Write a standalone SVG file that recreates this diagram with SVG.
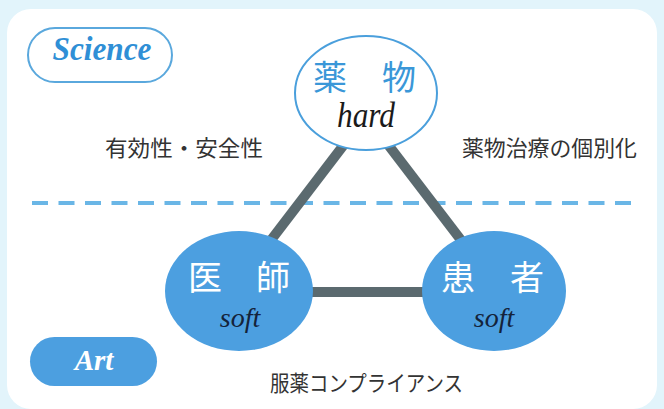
<svg xmlns="http://www.w3.org/2000/svg" width="664" height="409" viewBox="0 0 664 409">
<style>
.jp{font-family:"Noto Sans CJK JP","Noto Sans",sans-serif}
.lbl{font-size:22px;fill:#333}
.it{font-family:"Liberation Serif","DejaVu Serif",serif;font-style:italic}
.edge{stroke:#5b6a6f;stroke-width:10;stroke-linecap:butt}
.wn{font-size:34px;fill:#fff}
.soft{font-size:28px;fill:#14233a}
</style>
<rect x="0" y="0" width="664" height="409" fill="#e2f4fb"/>
<rect x="7" y="9" width="650" height="400" rx="24" fill="#ffffff"/>
<line x1="32" y1="203" x2="638" y2="203" stroke="#6ab6e6" stroke-width="4" stroke-dasharray="16 10.5"/>
<g id="connectors">
<line class="edge" x1="346" y1="142" x2="268" y2="244"/>
<line class="edge" x1="386" y1="142" x2="464" y2="244"/>
<line class="edge" x1="300" y1="292" x2="432" y2="292"/>
</g>
<g id="science">
<rect x="28" y="28" width="144" height="54" rx="27" fill="#fff" stroke="#5aa8dd" stroke-width="2"/>
<text x="102" y="60" text-anchor="middle" class="it" font-weight="bold" font-size="34" fill="#2f8fd6" textLength="99" lengthAdjust="spacingAndGlyphs">Science</text>
</g>
<g id="art">
<rect x="30" y="337" width="127" height="49" rx="24.5" fill="#4c9fe0"/>
<text x="94" y="370" text-anchor="middle" class="it" font-weight="bold" font-size="29" fill="#fff">Art</text>
</g>
<g id="drug">
<ellipse cx="366" cy="93" rx="71" ry="57" fill="#fff" stroke="#4a9fdc" stroke-width="2"/>
<text x="330" y="90" text-anchor="middle" class="jp" font-size="34" fill="#3a97d8">薬</text>
<text x="399" y="90" text-anchor="middle" class="jp" font-size="34" fill="#3a97d8">物</text>
<text x="366" y="127" text-anchor="middle" class="it" font-size="36" fill="#1a1a1a" textLength="58" lengthAdjust="spacingAndGlyphs">hard</text>
</g>
<g id="doctor">
<ellipse cx="239" cy="291" rx="74" ry="60" fill="#4c9fe0"/>
<text x="205" y="290" text-anchor="middle" class="jp wn">医</text>
<text x="273" y="290" text-anchor="middle" class="jp wn">師</text>
<text x="240" y="327" text-anchor="middle" class="it soft">soft</text>
</g>
<g id="patient">
<ellipse cx="494" cy="291" rx="72" ry="60" fill="#4c9fe0"/>
<text x="458" y="290" text-anchor="middle" class="jp wn">患</text>
<text x="527" y="290" text-anchor="middle" class="jp wn">者</text>
<text x="494" y="327" text-anchor="middle" class="it soft">soft</text>
</g>
<text x="105" y="156" class="jp lbl" textLength="158" lengthAdjust="spacingAndGlyphs">有効性・安全性</text>
<text x="462" y="156" class="jp lbl" textLength="175" lengthAdjust="spacingAndGlyphs">薬物治療の個別化</text>
<text x="270" y="391" class="jp lbl" font-size="21" textLength="193" lengthAdjust="spacingAndGlyphs">服薬コンプライアンス</text>
</svg>
